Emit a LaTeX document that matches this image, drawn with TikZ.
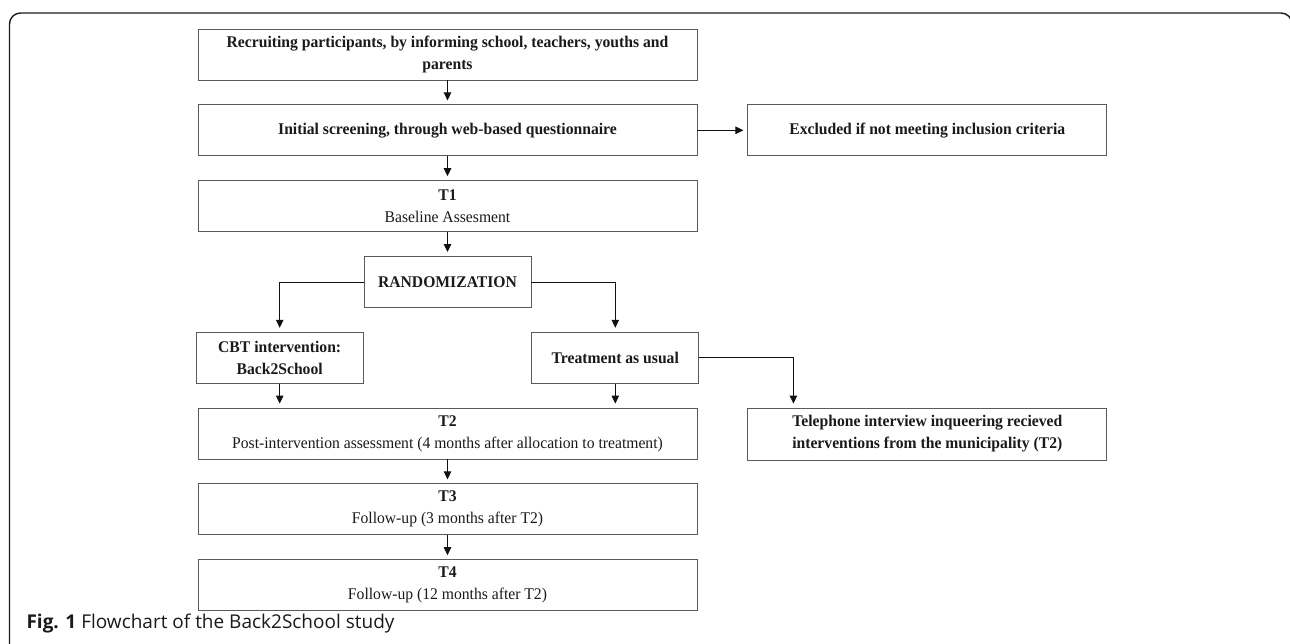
\documentclass[tikz,border=0pt]{standalone}
\usepackage{fontspec}
\setmainfont{Liberation Serif}[FakeStretch=0.96]
\newfontfamily\capfont{Open Sans}
\usepackage{xcolor}
\definecolor{cBox}{HTML}{5A5A5A}
\definecolor{cLine}{HTML}{111111}
\definecolor{cText}{HTML}{1A1A1A}
\usepackage{tikz}
\usetikzlibrary{positioning,arrows.meta,calc}
\newcommand\boxfont{\fontsize{16.3}{22}\selectfont}
\tikzset{
  node-box/.style={draw=cBox,line width=0.8pt,minimum height=51pt,
    align=center,font=\boxfont,text=cText,inner sep=2pt},
  node-bold/.style={font=\boxfont\bfseries},
  node-main/.style={node-box,minimum width=499pt},
  node-side/.style={node-box,minimum width=167pt},
  node-note/.style={node-box,node-bold,minimum width=359pt},
  arrow/.style={-{Triangle[length=8pt,width=7.5pt]},line width=0.8pt,
    draw=cLine,shorten >=4pt},
  frame-line/.style={draw=cText,line width=1.4pt,rounded corners=11pt},
}

\begin{document}
\begin{tikzpicture}[x=1pt,y=1pt,node distance=24pt and 50pt]
  \useasboundingbox (0,0) rectangle (1290,-643);
  \clip (0,0) rectangle (1290,-643);
  \draw[frame-line] (9.5,-700) -- (9.5,-13) -- (1292,-13) -- (1292,-700);

  \node[node-main,node-bold] (rec) at (447.5,-54.5)
    {Recruiting participants, by informing school, teachers, youths and\\parents};
  \node[node-main,node-bold,below=of rec] (scr)
    {Initial screening, through web-based questionnaire};
  \node[node-note,right=of scr] (excl)
    {Excluded if not meeting inclusion criteria};
  \node[node-main,below=of scr] (t1) {\textbf{T1}\\Baseline Assesment};
  \node[node-side,node-bold,below=of t1] (rand) {RANDOMIZATION};
  \node[node-side,node-bold,below left=24pt and 0pt of rand.south west] (cbt)
    {CBT intervention:\\Back2School};
  \node[node-side,node-bold,below right=24pt and 0pt of rand.south east] (tau)
    {Treatment as usual};
  \coordinate (split) at (t1.south |- cbt.south);
  \node[node-main,below=of split] (t2)
    {\textbf{T2}\\Post-intervention assessment (4 months after allocation to treatment)};
  \node[node-note,minimum height=52pt,
    below right=0pt and 50pt of t2.north east] (tel)
    {Telephone interview inqueering recieved\\interventions from the municipality (T2)};
  \node[node-main,below=of t2] (t3) {\textbf{T3}\\Follow-up (3 months after T2)};
  \node[node-main,below=of t3] (t4) {\textbf{T4}\\Follow-up (12 months after T2)};

  \node[anchor=base west,font=\capfont\fontsize{19}{22}\selectfont,text=cText]
    (cap) at (23,-628) {\textbf{Fig. 1} Flowchart of the Back2School study};

  \draw[arrow] (rec) -- (scr);
  \draw[arrow] (scr) -- (excl);
  \draw[arrow] (scr) -- (t1);
  \draw[arrow] (t1) -- (rand);
  \draw[arrow] (rand) -| (cbt);
  \draw[arrow] (rand) -| (tau);
  \draw[arrow] (cbt) -- (cbt |- t2.north);
  \draw[arrow] (tau) -- (tau |- t2.north);
  \coordinate (telin) at ([xshift=46pt]tel.north west);
  \draw[arrow] (tau) -| (telin);
  \draw[arrow] (t2) -- (t3);
  \draw[arrow] (t3) -- (t4);
\end{tikzpicture}
\end{document}
